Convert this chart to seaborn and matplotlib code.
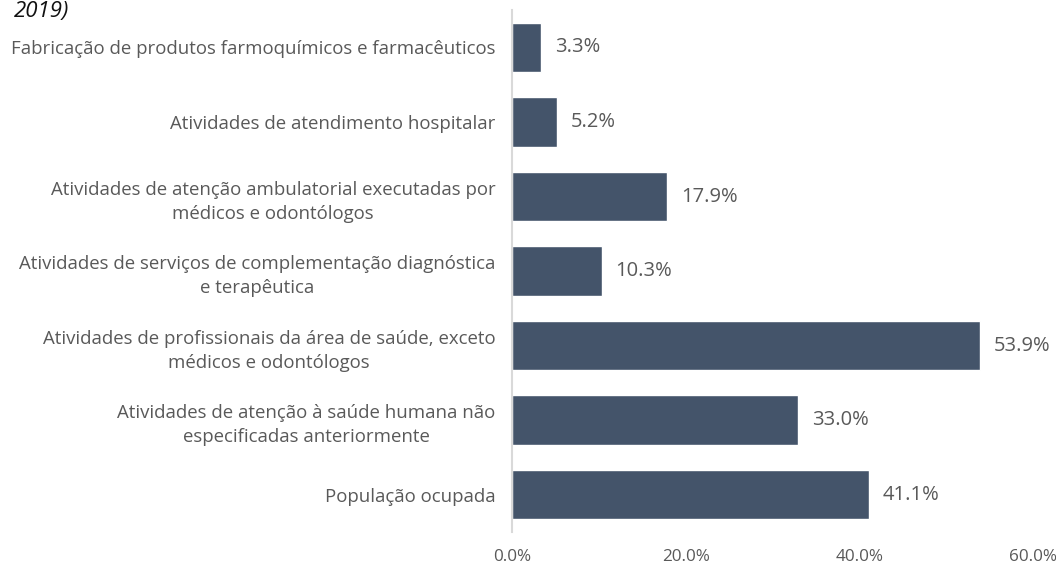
import numpy as np
import pandas as pd
import matplotlib.pyplot as plt
import seaborn as sns

categories = [
    "Fabricação de produtos farmoquímicos e farmacêuticos",
    "Atividades de atendimento hospitalar",
    "Atividades de atenção ambulatorial executadas por\nmédicos e odontólogos",
    "Atividades de serviços de complementação diagnóstica\ne terapêutica",
    "Atividades de profissionais da área de saúde, exceto\nmédicos e odontólogos",
    "Atividades de atenção à saúde humana não\nespecificadas anteriormente",
    "População ocupada",
]
values = [3.3, 5.2, 17.9, 10.3, 53.9, 33.0, 41.1]
x_ticks = [0, 20, 40, 60]

sns.set_theme(style="white")
plt.rcParams['font.family'] = ['Open Sans', 'DejaVu Sans']

df = pd.DataFrame({"cat": categories, "val": values})
text_gray = "#595959"
bar_color = "#44546A"

fig = plt.figure(figsize=(10.56, 5.67), dpi=100)
ax = fig.add_axes([0.485, 0.062, 0.493, 0.920])

sns.barplot(data=df, x="val", y="cat", color=bar_color, width=0.66,
            saturation=1, ax=ax)

ax.set_xlim(0, 60)
ax.set_xticks(x_ticks)
ax.set_xticklabels([f"{t:.1f}%" for t in x_ticks], color=text_gray, fontsize=12.3)
ax.tick_params(axis='x', length=0, pad=12)
ax.tick_params(axis='y', length=0, pad=12)
for lbl in ax.get_yticklabels():
    lbl.set_color(text_gray)
    lbl.set_fontsize(13.4)
    lbl.set_multialignment('center')
    lbl.set_linespacing(1.45)
ax.set_xlabel("")
ax.set_ylabel("")

for s in ["top", "right", "bottom"]:
    ax.spines[s].set_visible(False)
ax.spines["left"].set_color("#d9d9d9")
ax.spines["left"].set_linewidth(1.5)

for i, v in enumerate(values):
    ax.text(v + 1.6, i, f"{v:.1f}%", va="center", ha="left",
            color=text_gray, fontsize=14.5)

fig.text(0.013, 0.999, "2019)", fontsize=16, style="italic", color="#111111",
         va="top", ha="left")

fig.savefig("out.png", dpi=100)
